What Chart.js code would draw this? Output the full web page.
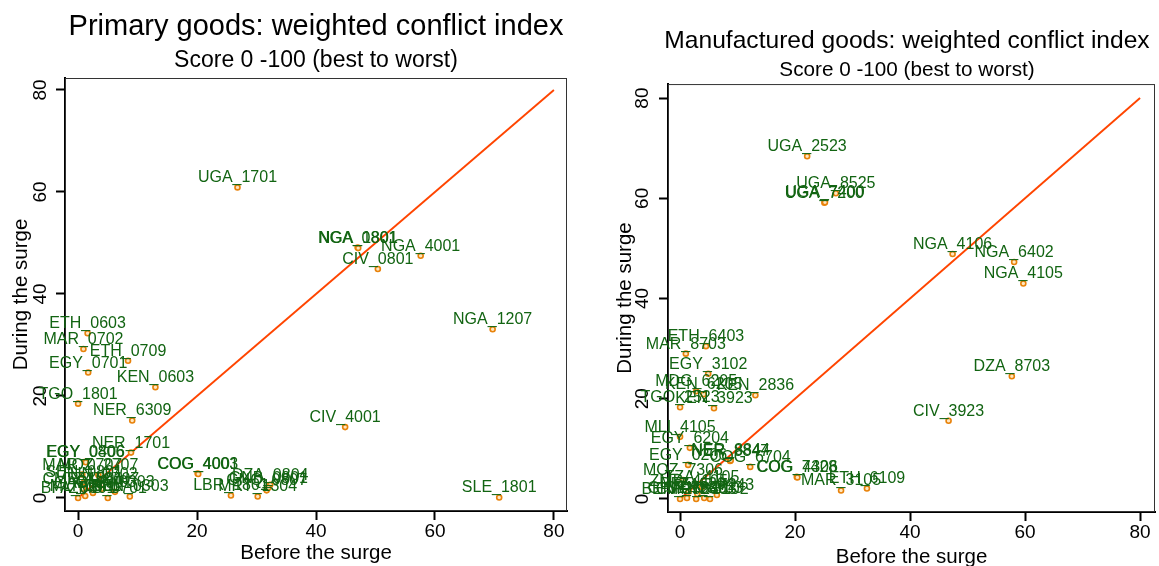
<!DOCTYPE html>
<html><head><meta charset="utf-8">
<script src="https://cdn.jsdelivr.net/npm/chart.js@4.4.0/dist/chart.umd.min.js"></script>
<style>
html,body{margin:0;padding:0;background:#fff;overflow:hidden;width:1159px;height:566px;position:relative;}
canvas{position:absolute;top:0;}
#c1{left:0px;}
#c2{left:600px;}
</style></head><body>
<canvas id="c2" width="614" height="566"></canvas>
<canvas id="c1" width="632" height="566"></canvas>
<script>
// ---------- data ----------
const tickValues = [0, 20, 40, 60, 80];
const diagonal = [0, 80];

const primaryLabels = ['UGA_1701','NGA_0801','NGA_1801','NGA_4001','CIV_0801','NGA_1207','CIV_4001','SLE_1801',
  'ETH_0603','MAR_0702','ETH_0709','EGY_0701','KEN_0603','TGO_1801','NER_6309','NER_1701','EGY_0806','EGY_0406',
  'MAR_0707','MOZ_2707','COG_4003','COG_4001','LBR_1801','MRT_1304','DZA_0804','GNQ_0807','GNB_0801',
  'BEN_0303','GHA_0303','SEN_0801','CMR_1801','TUN_0702','ZMB_0701','MLI_0801','BFA_0801','GAB_1801','TZA_0707'];
const primaryBefore = [26.8,47.0,47.1,57.6,50.4,69.7,44.9,70.8,
  1.6,0.9,8.4,1.7,13.0,0.0,9.1,8.9,1.2,1.3,
  0.7,3.4,20.1,20.2,25.7,30.2,32.3,31.7,32.0,
  8.7,6.2,1.0,0.8,3.5,5.0,1.2,0.0,2.5,4.0];
const primaryDuring = [60.9,49.1,49.0,47.5,44.9,33.1,13.9,0.1,
  32.3,29.2,26.9,24.6,21.7,18.5,15.2,8.9,7.1,7.0,
  4.6,4.5,4.8,4.7,0.5,0.3,2.6,1.5,2.0,
  0.3,1.2,3.1,1.8,2.7,0.0,0.4,0.0,1.0,1.8];

const manufLabels = ['UGA_2523','UGA_8525','UGA_7200','UGA_7400','NGA_4106','NGA_6402','NGA_4105','DZA_8703','CIV_3923',
  'ETH_6403','MAR_8703','EGY_3102','MDG_6205','KEN_6205','KEN_2836','TGO_2523','KEN_3923','MLI_4105','EGY_6204',
  'NER_8847','NER_8844','EGY_0206','COG_6704','MOZ_7306','TZA_4105','ZAF_7243','COG_7428','COG_4306','MAR_3105','ETH_6109',
  'BEN_2523','GHA_7306','CMR_6403','SEN_8703','TUN_3102','ZMB_4105','BFA_6204'];
const manufBefore = [22.1,27.1,25.1,25.2,47.4,58.1,59.7,57.7,46.7,
  4.5,1.0,4.9,2.8,4.1,13.1,0.0,5.9,0.0,1.7,
  8.7,8.8,1.4,12.2,0.5,3.8,6.4,20.3,20.4,28.0,32.5,
  0.0,1.2,2.8,4.2,5.2,1.5,3.0];
const manufDuring = [68.4,61.0,59.1,59.2,48.9,47.3,43.0,24.5,15.6,
  30.5,29.0,25.0,21.5,20.9,20.7,18.3,18.1,12.4,10.2,
  7.6,7.7,6.8,6.4,3.8,2.4,0.8,4.4,4.3,1.7,2.1,
  0.0,0.2,0.0,0.2,0.0,1.5,1.0];

// ---------- styling ----------
const FONT = '"Liberation Sans", Arial, sans-serif';
const LABEL_COLOR = 'rgb(18,100,18)';
const MARKER_COLOR = '#e8820a';
const LINE_COLOR = '#ff4500';

const labelPlugin = {
  id: 'ptLabels',
  afterDatasetsDraw(chart) {
    const ctx = chart.ctx;
    const meta = chart.getDatasetMeta(1);
    const ds = chart.data.datasets[1];
    ctx.save();
    ctx.font = '16px ' + FONT;
    ctx.fillStyle = LABEL_COLOR;
    ctx.textAlign = 'center';
    ctx.textBaseline = 'alphabetic';
    meta.data.forEach((el, i) => { ctx.fillText(ds.data[i].label, el.x, el.y - 5); });
    ctx.restore();
  }
};
const boxPlugin = {
  id: 'plotBox',
  beforeDatasetsDraw(chart) {
    const a = chart.chartArea, ctx = chart.ctx;
    ctx.save();
    ctx.strokeStyle = '#333';
    ctx.lineWidth = 1;
    ctx.strokeRect(a.left + 0.5, a.top + 0.5, a.right - a.left - 1, a.bottom - a.top - 1);
    ctx.restore();
  }
};

function build(id, o) {
  const pts = o.x.map((v, i) => ({ x: v, y: o.y[i], label: o.labels[i] }));
  const tickFont = { family: FONT, size: 19 };
  const axisTitleFont = { family: FONT, size: 20.5 };
  return new Chart(document.getElementById(id), {
    type: 'scatter',
    data: { datasets: [
      { type: 'line', data: diagonal.map(v => ({ x: v, y: v })), borderColor: LINE_COLOR, borderWidth: 1.9,
        pointRadius: 0, fill: false, order: 2 },
      { data: pts, pointRadius: 2.5, pointBorderColor: MARKER_COLOR, pointBackgroundColor: '#ffe6c0',
        pointBorderWidth: 1.6, order: 1 }
    ] },
    options: {
      responsive: false, animation: false, devicePixelRatio: 1,
      layout: { padding: 0 },
      events: [],
      plugins: {
        legend: { display: false }, tooltip: { enabled: false },
        title: { display: true, text: o.title, color: '#000',
          font: { family: FONT, size: o.titleSize, weight: 'normal', lineHeight: 1.2 },
          padding: { top: o.tPadTop, bottom: o.tPadBottom } },
        subtitle: { display: true, text: 'Score 0 -100 (best to worst)', color: '#000',
          font: { family: FONT, size: o.subSize, weight: 'normal', lineHeight: 1.2 },
          padding: { top: 0, bottom: o.sPadBottom } }
      },
      scales: {
        x: { type: 'linear', position: 'bottom', min: o.xmin, max: o.xmax,
          afterBuildTicks: s => { s.ticks = tickValues.map(v => ({ value: v })); },
          ticks: { font: tickFont, color: '#000', padding: o.xTickPad, maxRotation: 0 },
          grid: { drawOnChartArea: false, drawTicks: true, tickLength: 9, tickWidth: 2, tickColor: '#000' },
          border: { display: true, color: '#000', width: 2 },
          title: { display: true, text: 'Before the surge', color: '#000', font: axisTitleFont,
            padding: { top: 0, bottom: o.xTitlePad } },
          afterFit: s => { s.height = o.xh; } },
        y: { type: 'linear', position: 'left', min: o.ymin, max: o.ymax,
          afterBuildTicks: s => { s.ticks = tickValues.map(v => ({ value: v })); },
          ticks: { font: tickFont, color: '#000', padding: o.yTickPad, minRotation: 90, maxRotation: 90, crossAlign: 'center' },
          grid: { drawOnChartArea: false, drawTicks: true, tickLength: 9, tickWidth: 2, tickColor: '#000' },
          border: { display: true, color: '#000', width: 2 },
          title: { display: true, text: 'During the surge', color: '#000', font: axisTitleFont,
            padding: { top: o.yTitlePad, bottom: 0 } },
          afterFit: s => { s.width = o.yw; } },
        spacer: { axis: 'y', type: 'linear', position: 'right', display: true,
          ticks: { display: false }, grid: { display: false }, border: { display: false },
          afterFit: s => { s.width = o.rw; } }
      }
    },
    plugins: [boxPlugin, labelPlugin]
  });
}

build('c1', {
  labels: primaryLabels, x: primaryBefore, y: primaryDuring,
  title: 'Primary goods: weighted conflict index', titleSize: 29, subSize: 23,
  tPadTop: 9.6, tPadBottom: 2.8, sPadBottom: 3.2,
  xmin: -2.2, xmax: 82.2, ymin: -2.55, ymax: 82.35,
  xh: 55, yw: 65, rw: 65, xTickPad: 0, yTickPad: 4.4, xTitlePad: 0.7, yTitlePad: 8.7
});
build('c2', {
  labels: manufLabels, x: manufBefore, y: manufDuring,
  title: 'Manufactured goods: weighted conflict index', titleSize: 24.6, subSize: 20.7,
  tPadTop: 26.2, tPadBottom: 1.9, sPadBottom: 1.6,
  xmin: -2.1, xmax: 82.6, ymin: -2.6, ymax: 82.8,
  xh: 54, yw: 68, rw: 59, xTickPad: 0, yTickPad: 6, xTitlePad: -3.5, yTitlePad: 12.7
});
</script>
</body></html>
